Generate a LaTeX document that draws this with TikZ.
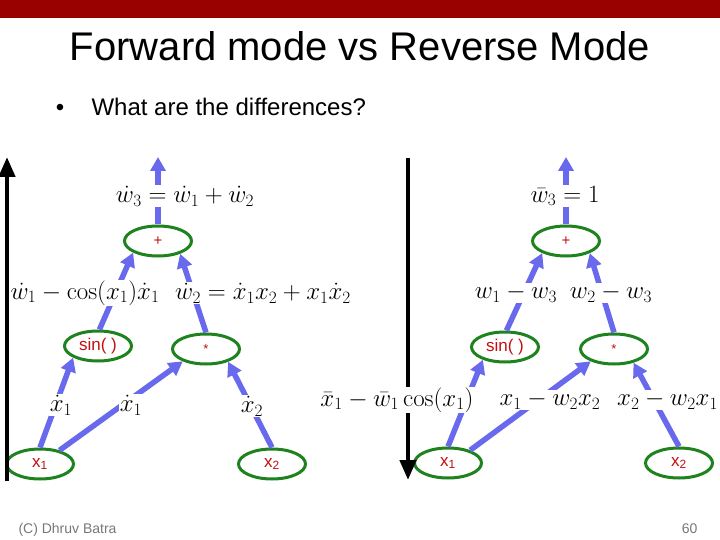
\documentclass[tikz,border=0pt]{standalone}
\usepackage[no-math]{fontspec}
\setmainfont{Liberation Sans}
\usepackage{amsmath}
\usetikzlibrary{shapes.geometric,arrows.meta}
\definecolor{barred}{RGB}{153,0,0}
\definecolor{ggreen}{RGB}{30,130,30}
\definecolor{rred}{RGB}{195,15,15}
\definecolor{bblue}{RGB}{105,105,238}
\definecolor{footgray}{RGB}{120,120,120}
\begin{document}
\begin{tikzpicture}[x=1pt,y=-1pt,
  op/.style={ellipse, draw=ggreen, line width=3pt, minimum width=67pt, minimum height=30pt, inner sep=0pt, text=rred, font=\fontsize{17}{20}\selectfont},
  flow/.style={draw=bblue, line width=5.5pt, -{Triangle[length=14pt,width=15pt]}},
  lab/.style={fill=white, inner sep=1pt, font=\fontsize{24}{28}\selectfont},
  bigarrow/.style={draw=black, line width=4.5pt, -{Triangle[length=20pt,width=16pt]}}]
\useasboundingbox (0,0) rectangle (720,540);
\fill[white] (0,0) rectangle (720,540);
% top bar
\fill[barred] (0,0) rectangle (720,18);
% title
\node[anchor=base, font=\fontsize{40}{44}\selectfont] (title) at (360,61) {Forward mode vs Reverse Mode};
\node[anchor=base, font=\fontsize{24}{28}\selectfont] (bullet) at (60,116) {•};
\node[anchor=base west, font=\fontsize{24}{28}\selectfont] (question) at (88,116) {What are the differences?};
% left graph nodes
\node[op, font=\fontsize{15}{18}\selectfont] (plusL) at (158,241) {+};
\node[op] (sinL) at (98,346) {sin( )};
\node[op, font=\fontsize{13}{16}\selectfont] (mulL) at (206,349) {*};
\node[op] (x1L) at (40,464) {x\textsubscript{1}};
\node[op] (x2L) at (272,464) {x\textsubscript{2}};
\coordinate (topL) at (158,157);
% right graph nodes
\node[op, font=\fontsize{15}{18}\selectfont] (plusR) at (566,241) {+};
\node[op] (sinR) at (505,347) {sin( )};
\node[op, font=\fontsize{13}{16}\selectfont] (mulR) at (614,349) {*};
\node[op] (x1R) at (448,463) {x\textsubscript{1}};
\node[op] (x2R) at (679,463) {x\textsubscript{2}};
\coordinate (topR) at (566,157);
% left arrows
\draw[flow] (x1L.north) -- (sinL.205);
\draw[flow] (x1L.35) -- (mulL.208);
\draw[flow] (x2L.north) -- (mulL.330);
\draw[flow] (sinL.85) -- (plusL.205);
\draw[flow] (mulL.north) -- (plusL.330);
\draw[flow] (plusL.north) -- (topL);
% right arrows
\draw[flow] (x1R.north) -- (sinR.210);
\draw[flow] (x1R.30) -- (mulR.208);
\draw[flow] (x2R.north) -- (mulR.325);
\draw[flow] (sinR.85) -- (plusR.207);
\draw[flow] (mulR.north) -- (plusR.333);
\draw[flow] (plusR.north) -- (topR);
% middle black arrow
\coordinate (midtop) at (408,158);
\coordinate (midbot) at (408,480);
\draw[bigarrow] (midtop) -- (midbot);
% left labels
\node[lab] (l1) at (185,196) {$\dot w_3 = \dot w_1 + \dot w_2$};
\node[lab] (l2) at (85,293) {$\dot w_1 - \cos(x_1)\dot x_1$};
\node[lab] (l3) at (263,293) {$\dot w_2 = \dot x_1 x_2 + x_1 \dot x_2$};
\node[lab] (l4) at (61,405) {$\dot x_1$};
\node[lab] (l5) at (131,405) {$\dot x_1$};
\node[lab] (l6) at (252,406) {$\dot x_2$};
% right labels
\node[lab] (r1) at (565,196) {$\bar w_3 = 1$};
\node[lab] (r2) at (516,293) {$w_1 - w_3$};
\node[lab] (r3) at (611,293) {$w_2 - w_3$};
\node[lab] (r4) at (397,400) {$\bar x_1 - \bar w_1 \cos(x_1)$};
\node[lab] (r5) at (550,400) {$x_1 - w_2 x_2$};
\node[lab, anchor=west] (r6) at (616,400) {$x_2 - w_2 x_1$};
% left black arrow
\coordinate (lefttop) at (7,157);
\coordinate (leftbot) at (7,481);
\draw[bigarrow] (leftbot) -- (lefttop);
% footer
\node[anchor=base west, text=footgray, font=\fontsize{14}{16}\selectfont] (author) at (15,533) {(C) Dhruv Batra};
\node[anchor=base east, text=footgray, font=\fontsize{14}{16}\selectfont] (page) at (701,533) {60};
\end{tikzpicture}
\end{document}
